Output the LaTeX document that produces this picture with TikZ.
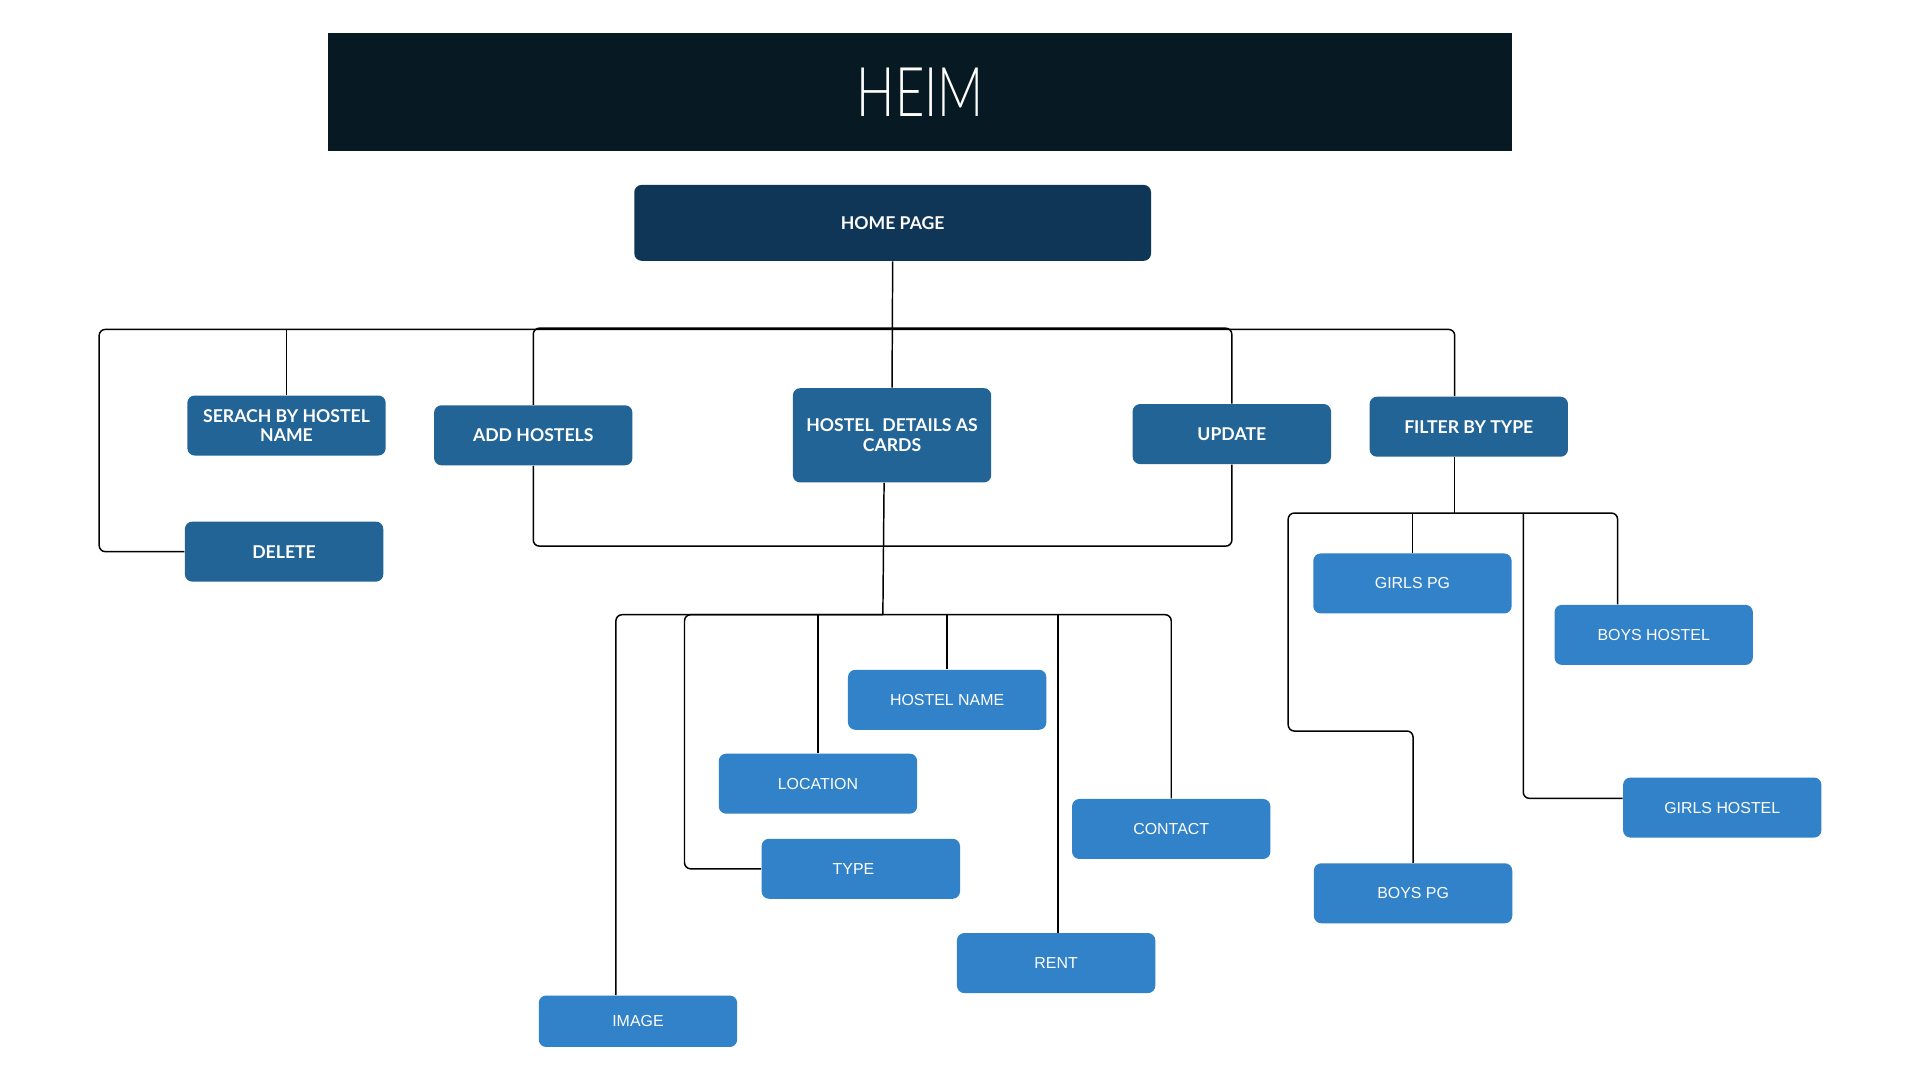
\documentclass[tikz,border=0pt]{standalone}
\usepackage{fontspec}
\setmainfont{Liberation Sans}
\newfontfamily\boxf{Lato}
\newfontfamily\thinf{Lato Light}
\newfontfamily\lightf{Liberation Sans}
\definecolor{titlec}{RGB}{7,26,35}
\definecolor{homec}{RGB}{15,53,87}
\definecolor{midc}{RGB}{35,100,150}
\definecolor{lightc}{RGB}{49,130,200}
\tikzset{
  base/.style={rounded corners=3pt, text=white, inner sep=0pt, align=center},
  lvltwo/.style={base, fill=midc, minimum width=81pt, minimum height=24.5pt,
     font=\boxf\bfseries\fontsize{7.2}{8}\selectfont},
  lvlthree/.style={base, fill=lightc, minimum width=81pt, minimum height=24.5pt,
     font=\lightf\fontsize{6.5}{8}\selectfont},
  conn/.style={draw=black, line width=0.6pt, rounded corners=2.5pt}
}
\begin{document}
\begin{tikzpicture}[x=0.5pt,y=-0.5pt]
\useasboundingbox (0,0) rectangle (1568,882);
\fill[white] (0,0) rectangle (1568,882);
% title
\node[fill=titlec, minimum width=483.5pt, minimum height=48pt, inner sep=0pt, text=white] (title) at (751.5,75)
  {\scalebox{0.74}[1]{\thinf\fontsize{28}{30}\selectfont HEIM}};
\node[base, fill=homec, minimum width=211pt, minimum height=31pt,
     font=\boxf\bfseries\fontsize{7.2}{8}\selectfont] (home) at (729,182) {HOME PAGE};
% level two
\node[lvltwo] (search) at (234,347.5) {SERACH BY HOSTEL\\NAME};
\node[lvltwo] (add) at (435.5,355.5) {ADD HOSTELS};
\node[lvltwo, minimum height=38.5pt] (details) at (728.5,355.5) {HOSTEL\ \ DETAILS AS\\CARDS};
\node[lvltwo] (update) at (1006,354.5) {UPDATE};
\node[lvltwo] (filter) at (1199.5,348.5) {FILTER BY TYPE};
\node[lvltwo] (delete) at (232,450.5) {DELETE};
% level three
\node[lvlthree] (girlspg) at (1153.5,476.5) {GIRLS PG};
\node[lvlthree] (boyshostel) at (1350.5,518.5) {BOYS HOSTEL};
\node[lvlthree] (girlshostel) at (1406.5,659.5) {GIRLS HOSTEL};
\node[lvlthree] (boyspg) at (1154,729.5) {BOYS PG};
\node[lvlthree] (hostelname) at (773.5,571.5) {HOSTEL NAME};
\node[lvlthree] (location) at (668,640) {LOCATION};
\node[lvlthree] (type) at (703,709.5) {\hspace*{-6pt}TYPE};
\node[lvlthree] (contact) at (956.5,677) {CONTACT};
\node[lvlthree] (rent) at (862.5,786.5) {RENT};
\node[lvlthree, minimum height=21pt] (image) at (521,834) {IMAGE};
% coordinates
\coordinate (bus) at (729,268);
\coordinate (busleft) at (81,269);
\coordinate (loopb) at (721,446);
\coordinate (lb) at (721,502);
\coordinate (tl) at (559,502);
\coordinate (fb) at (1188,419);
\coordinate (lp) at (1052,597);
\coordinate (gh) at (1244,419);
% connectors
\draw[conn] (home.south) -- (details.north);
\draw[conn] (delete.west) -| (busleft) -| ([xshift=-5.75pt]filter.north);
\draw[conn] (search.north) -- (search.north |- busleft);
\draw[conn] (add.north) -- (add.north |- bus) -- (update.north |- bus) -- (update.north);
\draw[conn] (add.south) |- (loopb) -| (update.south);
\draw[conn] ([xshift=-3.25pt]details.south) -- (lb);
\draw[conn] ([xshift=-9pt]image.north) |- (lb) -| (contact.north);
\draw[conn] (type.west) -| (tl) -- (lb);
\draw[conn] (location.north) -- (location.north |- lb);
\draw[conn] (hostelname.north) -- (hostelname.north |- lb);
\draw[conn] ([xshift=0.75pt]rent.north) -- ([xshift=0.75pt]rent.north |- lb);
\draw[conn] ([xshift=-5.75pt]filter.south) -- (fb);
\draw[conn] (boyspg.north) |- (lp) |- (fb) -| ([xshift=-14.75pt]boyshostel.north);
\draw[conn] (girlspg.north) -- (girlspg.north |- fb);
\draw[conn] ([yshift=3.75pt]girlshostel.west) -| (gh);
\end{tikzpicture}
\end{document}
